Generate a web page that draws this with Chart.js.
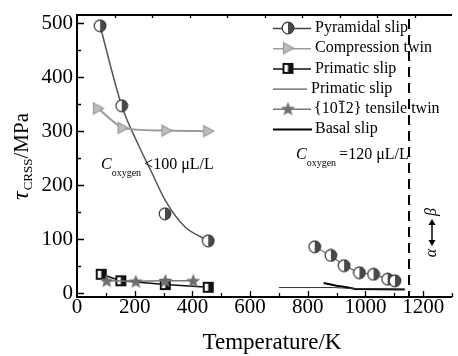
<!DOCTYPE html>
<html>
<head>
<meta charset="utf-8">
<script src="https://cdn.jsdelivr.net/npm/chart.js@4.4.0/dist/chart.umd.min.js"></script>
<style>
  html, body { margin: 0; padding: 0; background: #fff; }
</style>
</head>
<body>
<canvas id="crssChart" width="458" height="356"></canvas>
<script>
// values (T in K, tau in MPa)
const pyrLowT = [80, 155, 305, 455];
const pyrLowV = [495, 347, 147, 97];
const pyrFitT = [80, 155, 215, 255, 306, 374, 456];
const pyrFitV = [495, 347, 272, 228, 172, 123, 97];
const pyrHighT = [824, 880, 926, 979, 1028, 1077, 1102];
const pyrHighV = [86, 70, 51, 38, 35, 26, 23];
const compT = [73, 158, 310, 455];
const compV = [342, 306, 301, 300];
const primT = [84, 152, 306, 455];
const primV = [35, 23, 16, 11];
const starT = [103, 204, 306, 403];
const starV = [23, 22, 23, 23];
const primHighT = [700, 890, 960, 1136];
const primHighV = [10.5, 10.5, 8.5, 7.5];
const basalT = [855, 900, 935, 965, 1136];
const basalV = [19, 14, 11, 8, 7];
const legendLabels = ['Pyramidal slip', 'Compression twin', 'Primatic slip', 'Primatic slip', 'tensile twin', 'Basal slip'];
const xTickLabels = [0, 200, 400, 600, 800, 1000, 1200];
const yTickLabels = [0, 100, 200, 300, 400, 500];
const transitionT = 1150;

const serif = '"Liberation Serif", "Times New Roman", serif';

function pts(xs, ys) {
    return xs.map((x, i) => ({ x: x, y: ys[i] }));
}

// marker images
function makeCanvas(size) {
    const c = document.createElement('canvas');
    c.width = size;
    c.height = size;
    return c;
}

function halfCircle() {
    const c = makeCanvas(14);
    const g = c.getContext('2d');
    const r = 5.8, m = 7;
    g.beginPath(); g.arc(m, m, r, 0, Math.PI * 2);
    g.fillStyle = '#fff'; g.fill();
    g.beginPath(); g.arc(m, m, r, -Math.PI / 2, Math.PI / 2); g.closePath();
    g.fillStyle = '#4a4a4a'; g.fill();
    g.beginPath(); g.arc(m, m, r, 0, Math.PI * 2);
    g.strokeStyle = '#333'; g.lineWidth = 1.2; g.stroke();
    return c;
}

function rightTriangle() {
    const c = makeCanvas(14);
    const g = c.getContext('2d');
    g.beginPath();
    g.moveTo(2.5, 1.5); g.lineTo(12.5, 7); g.lineTo(2.5, 12.5); g.closePath();
    g.fillStyle = '#bdbdbd'; g.fill();
    g.strokeStyle = '#999'; g.lineWidth = 1.3; g.stroke();
    return c;
}

function halfSquare() {
    const c = makeCanvas(13);
    const g = c.getContext('2d');
    g.fillStyle = '#fff'; g.fillRect(2, 2, 9, 9);
    g.fillStyle = '#111'; g.fillRect(6.5, 2, 4.5, 9);
    g.strokeStyle = '#111'; g.lineWidth = 2; g.strokeRect(2, 2, 9, 9);
    return c;
}

function filledStar() {
    const c = makeCanvas(17);
    const g = c.getContext('2d');
    const m = 8.5, ro = 7.5, ri = 3.2;
    g.beginPath();
    for (let i = 0; i < 10; i++) {
        const r = i % 2 === 0 ? ro : ri;
        const a = -Math.PI / 2 + i * Math.PI / 5;
        const px = m + r * Math.cos(a), py = m + 0.5 + r * Math.sin(a);
        if (i === 0) g.moveTo(px, py); else g.lineTo(px, py);
    }
    g.closePath();
    g.fillStyle = '#6e6e6e'; g.fill();
    return c;
}

const pyrImg = halfCircle();
const triImg = rightTriangle();
const sqImg = halfSquare();
const starImg = filledStar();

// legend, axes, ticks, labels and annotations
const decorations = {
    id: 'decorations',
    afterDraw(chart) {
        const ctx = chart.ctx;
        const xs = chart.scales.x, ys = chart.scales.y;
        const a = chart.chartArea;
        ctx.save();

        // dashed alpha/beta line
        ctx.strokeStyle = '#000';
        ctx.lineWidth = 2;
        ctx.setLineDash([10, 6]);
        const xd = Math.round(xs.getPixelForValue(transitionT));
        ctx.beginPath(); ctx.moveTo(xd, a.top + 4); ctx.lineTo(xd, a.bottom); ctx.stroke();
        ctx.setLineDash([]);

        // frame
        ctx.lineWidth = 2;
        ctx.beginPath();
        ctx.moveTo(a.right, a.top); ctx.lineTo(a.left, a.top);
        ctx.lineTo(a.left, a.bottom); ctx.lineTo(a.right, a.bottom);
        ctx.stroke();

        // ticks (inward)
        ctx.lineWidth = 1.3;
        ctx.beginPath();
        for (let v = 0; v <= 500; v += 50) {
            const y = Math.round(ys.getPixelForValue(v)) + 0.5;
            const len = v % 100 === 0 ? 7 : 4;
            ctx.moveTo(a.left, y); ctx.lineTo(a.left + len, y);
        }
        for (let v = 100; v <= 1300; v += 100) {
            const x = Math.round(xs.getPixelForValue(v)) + 0.5;
            const len = v % 200 === 0 ? 6 : 4;
            ctx.moveTo(x, a.bottom); ctx.lineTo(x, a.bottom - len);
        }
        for (let v = 130; v < 1300; v += 130) {
            const x = Math.round(xs.getPixelForValue(v)) + 0.5;
            ctx.moveTo(x, a.top); ctx.lineTo(x, a.top + 3);
        }
        ctx.stroke();

        // tick labels
        ctx.fillStyle = '#000';
        ctx.font = '21px ' + serif;
        ctx.textBaseline = 'middle';
        ctx.textAlign = 'right';
        yTickLabels.forEach(v => ctx.fillText(String(v), a.left - 4, ys.getPixelForValue(v)));
        ctx.textAlign = 'center';
        xTickLabels.forEach(v => ctx.fillText(String(v), xs.getPixelForValue(v), 307));

        // axis titles
        ctx.font = '23px ' + serif;
        ctx.fillText('Temperature/K', 272, 343);

        ctx.save();
        ctx.translate(22, 157);
        ctx.rotate(-Math.PI / 2);
        ctx.textAlign = 'left';
        ctx.textBaseline = 'alphabetic';
        ctx.font = 'italic 24px ' + serif;
        const wTau = ctx.measureText('\u03c4').width;
        ctx.font = '13px ' + serif;
        const wSub = ctx.measureText('CRSS').width;
        ctx.font = '21px ' + serif;
        const wMpa = ctx.measureText('/MPa').width;
        let x0 = -(wTau + wSub + wMpa) / 2;
        ctx.font = 'italic 24px ' + serif;
        ctx.fillText('\u03c4', x0, 6);
        ctx.font = '13px ' + serif;
        ctx.fillText('CRSS', x0 + wTau + 1, 10);
        ctx.font = '21px ' + serif;
        ctx.fillText('/MPa', x0 + wTau + wSub + 1, 6);
        ctx.restore();

        // oxygen annotations
        function oxygen(x, y, rest) {
            ctx.textAlign = 'left';
            ctx.textBaseline = 'alphabetic';
            ctx.font = 'italic 16px ' + serif;
            ctx.fillText('C', x, y);
            const wc = ctx.measureText('C').width;
            ctx.font = '10px ' + serif;
            ctx.fillText('oxygen', x + wc, y + 7);
            const wo = ctx.measureText('oxygen').width;
            ctx.font = '16px ' + serif;
            ctx.fillText(rest, x + wc + wo + 3, y);
        }
        oxygen(101, 169, '<100 \u03bcL/L');
        oxygen(296, 159, '=120 \u03bcL/L');

        // alpha <-> beta
        ctx.save();
        ctx.translate(432, 232);
        ctx.rotate(-Math.PI / 2);
        ctx.font = 'italic 16px ' + serif;
        ctx.textAlign = 'center';
        ctx.textBaseline = 'middle';
        ctx.fillText('\u03b1', -21, 0);
        ctx.fillText('\u03b2', 20, 0);
        ctx.lineWidth = 1.5;
        ctx.beginPath(); ctx.moveTo(-11, 0); ctx.lineTo(10, 0); ctx.stroke();
        ctx.beginPath();
        ctx.moveTo(-14, 0); ctx.lineTo(-8, -3.5); ctx.lineTo(-8, 3.5); ctx.closePath();
        ctx.moveTo(13, 0); ctx.lineTo(7, -3.5); ctx.lineTo(7, 3.5); ctx.closePath();
        ctx.fill();
        ctx.restore();

        // legend
        const items = [
            { color: '#444', width: 1.5, img: pyrImg, end: 311 },
            { color: '#9a9a9a', width: 1.5, img: triImg, end: 311 },
            { color: '#111', width: 1.5, img: sqImg, end: 311 },
            { color: '#333', width: 1, img: null, end: 307 },
            { color: '#777', width: 1.5, img: starImg, end: 311 },
            { color: '#000', width: 2, img: null, end: 312 }
        ];
        ctx.textAlign = 'left';
        ctx.textBaseline = 'middle';
        items.forEach((it, i) => {
            const y = 28 + i * 20.2;
            ctx.strokeStyle = it.color;
            ctx.lineWidth = it.width;
            ctx.beginPath(); ctx.moveTo(273, y + 0.5); ctx.lineTo(it.end, y + 0.5); ctx.stroke();
            if (it.img) ctx.drawImage(it.img, 288 - it.img.width / 2, y - it.img.height / 2);
            ctx.fillStyle = '#000';
            ctx.font = '16px ' + serif;
            if (i === 4) {
                let tx = 314;
                ctx.fillText('{10', tx, y); tx += ctx.measureText('{10').width;
                const w1 = ctx.measureText('1').width;
                ctx.fillText('1', tx, y);
                ctx.lineWidth = 1;
                ctx.strokeStyle = '#000';
                ctx.beginPath(); ctx.moveTo(tx + 1, y - 7.5); ctx.lineTo(tx + w1 - 1, y - 7.5); ctx.stroke();
                tx += w1;
                ctx.fillText('2} ' + legendLabels[i], tx, y);
            } else {
                ctx.fillText(legendLabels[i], i === 3 ? 311 : 315, y);
            }
        });

        ctx.restore();
    }
};

const ctx = document.getElementById('crssChart').getContext('2d');

new Chart(ctx, {
    type: 'scatter',
    data: {
        datasets: [
            {
                label: 'Pyramidal slip fit',
                data: pts(pyrFitT, pyrFitV),
                showLine: true,
                borderColor: '#555',
                borderWidth: 1.5,
                pointRadius: 0,
                cubicInterpolationMode: 'monotone',
                order: 5
            },
            {
                label: legendLabels[0],
                data: pts(pyrLowT, pyrLowV),
                showLine: false,
                pointStyle: pyrImg,
                order: 1
            },
            {
                label: legendLabels[0] + ' (120)',
                data: pts(pyrHighT, pyrHighV),
                showLine: true,
                borderColor: '#666',
                borderWidth: 1.2,
                pointStyle: pyrImg,
                order: 1
            },
            {
                label: legendLabels[1],
                data: pts(compT, compV),
                showLine: true,
                borderColor: '#9a9a9a',
                borderWidth: 2,
                tension: 0.2,
                pointStyle: triImg,
                order: 2
            },
            {
                label: legendLabels[2],
                data: pts(primT, primV),
                showLine: true,
                borderColor: '#111',
                borderWidth: 1.5,
                pointStyle: sqImg,
                order: 3
            },
            {
                label: legendLabels[4],
                data: pts(starT, starV),
                showLine: true,
                borderColor: '#777',
                borderWidth: 1.5,
                pointStyle: starImg,
                order: 2
            },
            {
                label: legendLabels[3] + ' (120)',
                data: pts(primHighT, primHighV),
                showLine: true,
                borderColor: '#333',
                borderWidth: 1,
                pointRadius: 0,
                order: 4
            },
            {
                label: legendLabels[5],
                data: pts(basalT, basalV),
                showLine: true,
                borderColor: '#000',
                borderWidth: 2,
                pointRadius: 0,
                order: 4
            }
        ]
    },
    options: {
        responsive: false,
        animation: false,
        layout: {
            padding: { left: 77, right: 0, top: 15, bottom: 59 }
        },
        plugins: {
            legend: { display: false },
            tooltip: { enabled: false }
        },
        scales: {
            x: { type: 'linear', min: 0, max: 1300, display: false },
            y: { type: 'linear', min: -7, max: 515, display: false }
        }
    },
    plugins: [decorations]
});
</script>
</body>
</html>
